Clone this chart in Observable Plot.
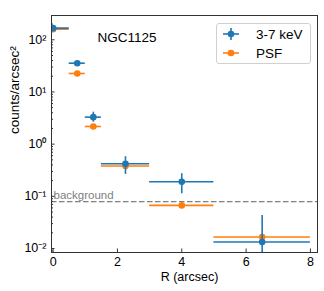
<!DOCTYPE html>
<html>
<head>
<meta charset="utf-8">
<script src="https://cdn.jsdelivr.net/npm/d3@7"></script>
<script src="https://cdn.jsdelivr.net/npm/@observablehq/plot@0.6"></script>
<style>
  body { margin: 0; background: #fff; }
  #wrap { position: relative; width: 324px; height: 291px; font-family: "Liberation Sans", Arial, sans-serif; }
  #legend { position: absolute; left: 216px; top: 23px; width: 93px; height: 39px; border: 1px solid #d0d0d0; border-radius: 3px; background: rgba(255,255,255,0.8); font-size: 13.5px; color: #000; }
  #legend .row { position: absolute; left: 4px; height: 18px; display: flex; align-items: center; }
  #legend svg { display: block; }
  #legend span { margin-left: 15px; }
</style>
</head>
<body>
<div id="wrap"></div>
<script>
// radial bins (arcsec)
const R   = [0, 0.75, 1.25, 2.25, 4, 6.5];
const Rlo = [-0.5, 0.5, 1.0, 1.5, 3, 5];
const Rhi = [0.5, 1.0, 1.5, 3.0, 5, 8];
// 3-7 keV surface brightness (counts/arcsec^2) with errors
const hard   = [167, 35.6, 3.29, 0.42, 0.19, 0.0133];
const hardLo = [152, 33, 2.64, 0.263, 0.112, 0.001];
const hardHi = [182, 38.5, 4.1, 0.574, 0.271, 0.043];
// PSF profile
const psf = [160, 22.6, 2.18, 0.38, 0.067, 0.0166];
const background = 0.079;
const xTicks = [0, 2, 4, 6, 8];
const yTicks = [0.01, 0.1, 1, 10, 100];
const yTickLabels = ["10\u207B\u00B2", "10\u207B\u00B9", "10\u2070", "10\u00B9", "10\u00B2"];
const yDomain = [0.00838, 292];
const yMinor = [];
for (const d of [0.001, 0.01, 0.1, 1, 10, 100]) for (let k = 2; k <= 9; k++) {
  const v = d * k;
  if (v > yDomain[0] && v < yDomain[1]) yMinor.push(v);
}

const blue = "#1f77b4", orange = "#ff7f0e";
const rows = R.map((r, i) => ({r, lo: Rlo[i], hi: Rhi[i], v: hard[i], vlo: hardLo[i], vhi: hardHi[i], p: psf[i]}));

const chart = Plot.plot({
  width: 324, height: 291,
  marginLeft: 51, marginRight: 7, marginTop: 15, marginBottom: 39,
  style: {fontFamily: "'Liberation Sans', Arial, sans-serif", fontSize: "12.5px", color: "#000", background: "#fff"},
  x: {domain: [-0.05, 8.22]},
  y: {type: "log", domain: yDomain},
  marks: [
    Plot.ruleY([background], {y: d => d, stroke: "#808080", strokeWidth: 1.3, strokeDasharray: "5.5,2.5"}),
    Plot.text(["background"], {frameAnchor: "left", y: () => background, dx: 2, dy: -3, lineAnchor: "bottom", textAnchor: "start", fill: "#808080", fontSize: 11.5}),
    // PSF
    Plot.ruleY(rows, {y: "p", x1: "lo", x2: "hi", stroke: orange, strokeWidth: 1.6, clip: true}),
    Plot.dot(rows, {x: "r", y: "p", r: 3.3, fill: orange, clip: true}),
    // 3-7 keV
    Plot.ruleY(rows, {y: "v", x1: "lo", x2: "hi", stroke: blue, strokeWidth: 1.6, clip: true}),
    Plot.ruleX(rows, {x: "r", y1: "vlo", y2: "vhi", stroke: blue, strokeWidth: 1.6, clip: true}),
    Plot.dot(rows, {x: "r", y: "v", r: 3.3, fill: blue, clip: true}),
    Plot.frame({stroke: "#333", strokeWidth: 1}),
    // axes
    Plot.axisX({ticks: xTicks, tickSize: 0, tickPadding: 5, tickFormat: d => String(d), fontSize: 12.5, label: null}),
    Plot.axisX({ticks: xTicks, tickSize: -3.5, text: null, label: null, stroke: "#333"}),
    Plot.axisY({ticks: yTicks, tickSize: 0, tickPadding: 5, tickFormat: d => yTickLabels[yTicks.indexOf(d)], fontSize: 12.5, label: null}),
    Plot.axisY({ticks: yTicks, tickSize: -3.5, text: null, label: null, stroke: "#333"}),
    Plot.axisY({ticks: yMinor, tickSize: -2, text: null, label: null, stroke: "#333"}),
    Plot.text(["counts/arcsec\u00B2"], {frameAnchor: "left", dx: -37, rotate: -90, fontSize: 13.5}),
    Plot.text(["R (arcsec)"], {frameAnchor: "bottom", dx: 5, dy: 28, fontSize: 12.5}),
    Plot.text(["NGC1125"], {frameAnchor: "top-left", dx: 46, dy: 17, textAnchor: "start", fontSize: 13.5})
  ]
});
const wrap = document.getElementById("wrap");
wrap.appendChild(chart);

const legend = document.createElement("div");
legend.id = "legend";
legend.innerHTML = `
  <div class="row" style="top:1px"><svg width="20" height="18"><line x1="2" x2="18" y1="9" y2="9" stroke="${blue}" stroke-width="1.6"/><line x1="10" x2="10" y1="3" y2="15" stroke="${blue}" stroke-width="1.6"/><circle cx="10" cy="9" r="3.3" fill="${blue}"/></svg><span>3-7 keV</span></div>
  <div class="row" style="top:20px"><svg width="20" height="18"><line x1="2" x2="18" y1="9" y2="9" stroke="${orange}" stroke-width="1.6"/><circle cx="10" cy="9" r="3.3" fill="${orange}"/></svg><span>PSF</span></div>`;
wrap.appendChild(legend);
</script>
</body>
</html>
